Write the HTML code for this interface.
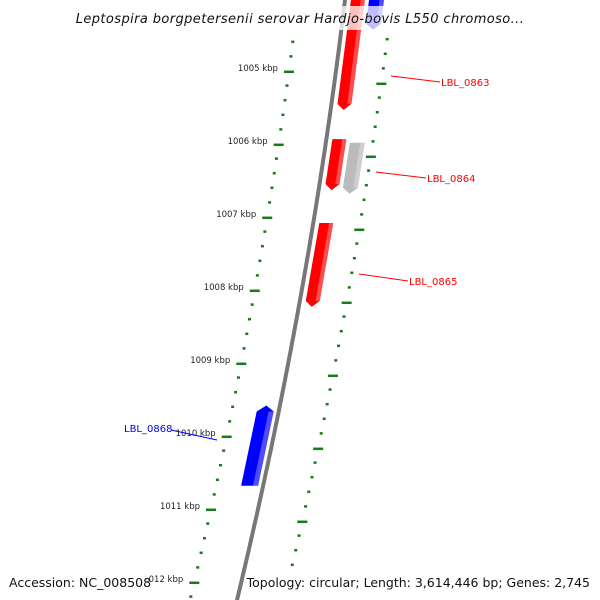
<!DOCTYPE html>
<html><head><meta charset="utf-8">
<style>
html,body{margin:0;padding:0;background:#fff;}
svg{display:block;font-family:"DejaVu Sans","Liberation Sans",sans-serif;}
</style></head>
<body>
<svg id="map" width="600" height="600" viewBox="0 0 600 600" xmlns="http://www.w3.org/2000/svg">
<g id="rings"></g>
<path id="backbone" d="" fill="none" stroke="#777" stroke-width="4"/>
<g id="genes"></g>
<g id="labels"></g>
<rect x="70" y="6" width="460" height="24" fill="#fff" fill-opacity="0.75"/>
<text x="300" y="23" text-anchor="middle" font-size="13" font-style="italic" fill="#111" letter-spacing="0.4">Leptospira borgpetersenii serovar Hardjo-bovis L550 chromoso...</text>
<rect x="5" y="571" width="142" height="20" fill="#fff" fill-opacity="0.85"/>
<text x="9" y="587" font-size="12.5" fill="#111">Accession: NC_008508</text>
<rect x="257" y="571" width="338" height="20" fill="#fff" fill-opacity="0.85"/>
<text x="590" y="587" text-anchor="end" font-size="12.5" fill="#111">Topology: circular; Length: 3,614,446 bp; Genes: 2,745</text>
</svg>
<script>
const majorTicks = [1005, 1006, 1007, 1008, 1009, 1010, 1011, 1012];
const tickLabels = ["1005 kbp","1006 kbp","1007 kbp","1008 kbp","1009 kbp","1010 kbp","1011 kbp","1012 kbp"];
const geneNames = ["LBL_0863","LBL_0864","gray-feature","LBL_0865","LBL_0868","top-feature"];
const geneStarts = [1003.8, 1005.85, 1005.9, 1007.0, 1009.5, 1003.8];
const geneEnds = [1005.45, 1006.55, 1006.6, 1008.15, 1010.6, 1004.35];
const geneStrands = [1, 1, 1, 1, -1, 1];
const geneLanes = [0, 0, 1, 0, 0, 1];
const geneColors = ["#ff0000","#ff0000","#bbbbbb","#ff0000","#0000ff","#0000ff"];
const labelledGenes = [0, 1, 3, 4];

const NS = "http://www.w3.org/2000/svg";
function mk(tag, attrs, parent){ const e=document.createElementNS(NS,tag); for(const k in attrs) e.setAttribute(k,attrs[k]); parent.appendChild(e); return e; }
// axis: kbp -> y (along backbone), and backbone x(y)
function yScale(k, off){ return 77 + off + 73*(k-1005); }
function bx(y){ return 345 - 0.12*y - 1e-4*y*y; }

// backbone
let d=""; for(let y=-5;y<=605;y+=5){ d += (y===-5?"M":"L")+bx(y).toFixed(1)+","+y+" "; }
document.getElementById("backbone").setAttribute("d", d);

// tick rings
const rings=document.getElementById("rings");
function ring(side){
  const off = side<0 ? -6 : 6, dx = side<0 ? -47 : 47;
  for(let k=1003; k<=1013.01; k+=0.2){
    const kk=Math.round(k*10)/10;
    const y=yScale(kk,off); if(y<35||y>600) continue;
    if(side>0 && y>565) continue;
    const x=bx(y)+dx;
    const major=Math.abs(kk-Math.round(kk))<0.01;
    const t=mk("line",{x1:x-(major?5:1.5),y1:y-(major?-0.8:0),x2:x+(major?5:1.5),y2:y+(major?0.8:0),stroke:"#1a7a1a","stroke-width":major?2.5:2.5},rings);
    
    
  }
}
ring(-1); ring(1);
majorTicks.forEach((k,i)=>{
  const y=yScale(k,-6); const x=bx(y)-47;
  const t=mk("text",{x:x-11,y:y,"text-anchor":"end","font-size":"8.5",fill:"#222"},rings);
  t.textContent=tickLabels[i];
  
  
});

// genes
const gg=document.getElementById("genes");
geneNames.forEach((n,i)=>{
  const s=geneStrands[i];
  const lane=geneLanes[i];
  let o1,o2;
  if(s<0){o1=-22;o2=-5;} else if(lane===0){o1=6;o2=20;} else {o1=24;o2=39;}
  const y1=yScale(geneStarts[i],0), y2=yScale(geneEnds[i],0);
  const pts=[]; 
  const head=6;
  if(s>0){
    pts.push([bx(y1)+o1,y1],[bx(y1)+o2,y1],[bx(y2-head)+o2,y2-head],[bx(y2)+(o1+o2)/2,y2],[bx(y2-head)+o1,y2-head]);
  } else {
    pts.push([bx(y2)+o1,y2],[bx(y2)+o2,y2],[bx(y1+head)+o2,y1+head],[bx(y1)+(o1+o2)/2,y1],[bx(y1+head)+o1,y1+head]);
  }
  const p=mk("polygon",{points:pts.map(p=>p[0].toFixed(1)+","+p[1].toFixed(1)).join(" "),fill:geneColors[i]},gg);
  
  
  // highlight sliver
  const w=o2-o1;
  const hs=[[pts[1][0]-w*0.3,pts[1][1]],[pts[1][0],pts[1][1]],[pts[2][0],pts[2][1]],[pts[2][0]-w*0.3,pts[2][1]]];
  const h=mk("polygon",{points:hs.map(p=>p[0].toFixed(1)+","+p[1].toFixed(1)).join(" "),fill:"#fff","fill-opacity":"0.3"},gg);
  
  
});

// labels
const lg=document.getElementById("labels");
const labelAnchors=[[441,86],[427,182],[409,285],[124,432]];
const lineStarts=[[391,76],[376,172],[359,274],[171,430]];
const lineEnds=[[440,82],[426,178],[408,281],[217,440]];
labelledGenes.forEach((gi,j)=>{
  const c=geneColors[gi];
  const l=mk("line",{x1:lineStarts[j][0],y1:lineStarts[j][1],x2:lineEnds[j][0],y2:lineEnds[j][1],stroke:c,"stroke-width":1},lg);
  
  
  const t=mk("text",{x:labelAnchors[j][0],y:labelAnchors[j][1],"font-size":"10",fill:c},lg);
  t.textContent=geneNames[gi];
  
  
});
</script>
</body></html>
